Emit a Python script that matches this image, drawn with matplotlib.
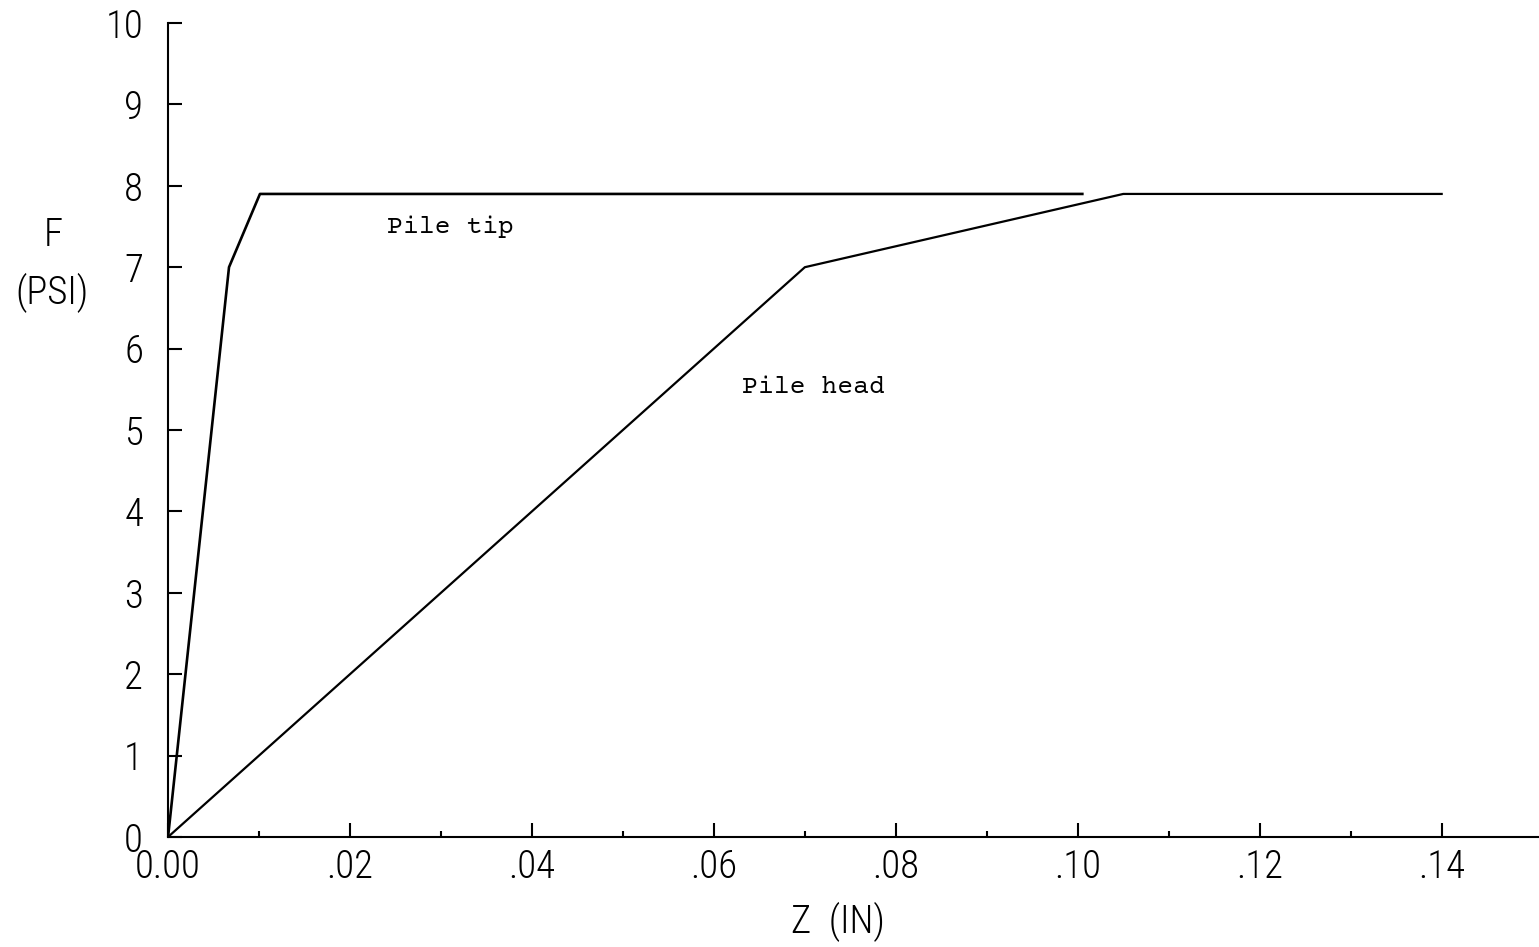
import numpy as np
import matplotlib
matplotlib.use("Agg")
import matplotlib.pyplot as plt
from matplotlib.ticker import FixedLocator, FixedFormatter

# Z (IN) vs F (PSI) for the two pile curves
z_tip = [0.0, 0.0067, 0.0101, 0.1005]
f_tip = [0.0, 7.0, 7.9, 7.9]

z_head = [0.0, 0.070, 0.105, 0.140]
f_head = [0.0, 7.0, 7.9, 7.9]

x_ticks = [0.00, 0.02, 0.04, 0.06, 0.08, 0.10, 0.12, 0.14]
x_labels = ["0.00", ".02", ".04", ".06", ".08", ".10", ".12", ".14"]
x_minor = [0.01, 0.03, 0.05, 0.07, 0.09, 0.11, 0.13]
y_ticks = list(range(0, 11))
y_labels = [str(v) for v in y_ticks]

tick_font = dict(family="Roboto Condensed", weight=300, fontsize=28)
note_font = dict(family="Courier Prime", fontsize=19)

fig = plt.figure(figsize=(15.39, 9.47), dpi=100)
ax = fig.add_axes([0.1092, 0.1162, 0.8908, 0.8595])

ax.plot(z_tip, f_tip, color="black", lw=1.9, solid_joinstyle="round")
ax.plot(z_head, f_head, color="black", lw=1.6, solid_joinstyle="round")

ax.set_xlim(0, 0.1507)
ax.set_ylim(0, 10)

for side in ("top", "right"):
    ax.spines[side].set_visible(False)
for side in ("left", "bottom"):
    ax.spines[side].set_linewidth(1.5)

ax.xaxis.set_major_locator(FixedLocator(x_ticks))
ax.xaxis.set_major_formatter(FixedFormatter(x_labels))
ax.xaxis.set_minor_locator(FixedLocator(x_minor))
ax.yaxis.set_major_locator(FixedLocator(y_ticks))
ax.yaxis.set_major_formatter(FixedFormatter(y_labels))

ax.tick_params(axis="x", which="major", direction="in", length=10, width=1.5, pad=8)
ax.tick_params(axis="x", which="minor", direction="in", length=4, width=1.5)
ax.tick_params(axis="y", which="major", direction="in", length=10, width=1.5, pad=18)
for lab in ax.get_xticklabels() + ax.get_yticklabels():
    lab.set_fontfamily(tick_font["family"])
    lab.set_fontweight(tick_font["weight"])
    lab.set_fontsize(tick_font["fontsize"])

ax.text(0.0241, 7.42, "Pile tip", **note_font)
ax.text(0.0631, 5.45, "Pile head", **note_font)

fig.text(0.0344, 0.7518, "F", ha="center", va="center", **tick_font)
fig.text(0.0340, 0.6906, "(PSI)", ha="center", va="center", **tick_font)
fig.text(0.5445, 0.0264, "Z  (IN)", ha="center", va="center", **tick_font)

fig.savefig("out.png", dpi=100)
